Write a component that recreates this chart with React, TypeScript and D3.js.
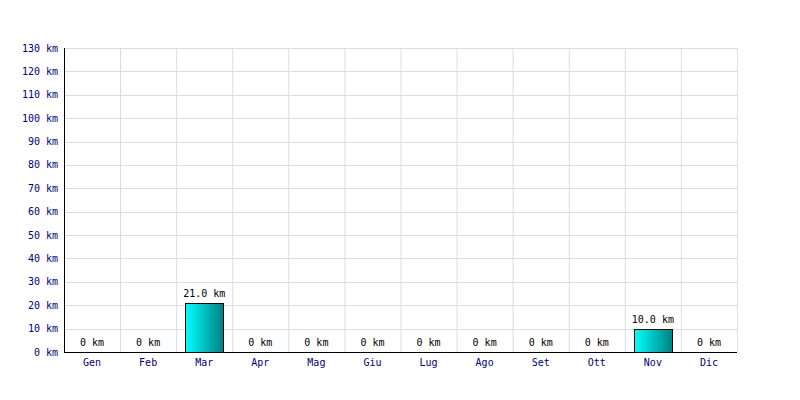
import React from "react";
import * as d3 from "d3";

const months = ["Gen", "Feb", "Mar", "Apr", "Mag", "Giu", "Lug", "Ago", "Set", "Ott", "Nov", "Dic"];
const distances = [0, 0, 21, 0, 0, 0, 0, 0, 0, 0, 10, 0];
const yTicks = [0, 10, 20, 30, 40, 50, 60, 70, 80, 90, 100, 110, 120, 130];

const width = 800;
const height = 400;
const margin = { top: 48, right: 63, bottom: 48, left: 64 };

const fmt = (v: number) => (v === 0 ? "0 km" : `${v.toFixed(1)} km`);

export default function App() {
  const x = d3
    .scaleBand<string>()
    .domain(months)
    .range([margin.left, width - margin.right])
    .paddingInner(0.32)
    .paddingOuter(0.16);
  const step = x.step();
  const y = d3
    .scaleLinear()
    .domain([0, 130])
    .range([height - margin.bottom, margin.top]);

  const bandLeft = (m: string) => margin.left + months.indexOf(m) * step;
  const font = "'DejaVu Sans Mono', monospace";

  return (
    <svg
      width={width}
      height={height}
      style={{ position: "absolute", left: 0, top: 0, background: "#fff" }}
      fontFamily={font}
      fontSize={10}
    >
      <defs>
        <linearGradient id="barGrad" x1="0" x2="1" y1="0" y2="0">
          <stop offset="0%" stopColor="#00ffff" />
          <stop offset="100%" stopColor="#008080" />
        </linearGradient>
      </defs>

      {/* grid */}
      {yTicks.map((t) => (
        <line
          key={"h" + t}
          x1={margin.left}
          x2={width - margin.right}
          y1={Math.round(y(t)) + 0.5}
          y2={Math.round(y(t)) + 0.5}
          stroke="#dcdcdc"
        />
      ))}
      {months.map((m, i) => (
        <line
          key={"v" + m}
          x1={margin.left + (i + 1) * step + 0.5}
          x2={margin.left + (i + 1) * step + 0.5}
          y1={y(130)}
          y2={y(0)}
          stroke="#dcdcdc"
        />
      ))}

      {/* bars */}
      {months.map((m, i) =>
        distances[i] > 0 ? (
          <rect
            key={"b" + m}
            x={Math.round(x(m)!) + 0.5}
            y={Math.round(y(distances[i])) + 0.5}
            width={Math.round(x.bandwidth())}
            height={Math.round(y(0)) - Math.round(y(distances[i]))}
            fill="url(#barGrad)"
            stroke="#000"
          />
        ) : null
      )}

      {/* value labels */}
      {months.map((m, i) => (
        <text
          key={"l" + m}
          x={bandLeft(m) + step / 2}
          y={y(distances[i]) - 6}
          textAnchor="middle"
          fill="#000"
        >
          {fmt(distances[i])}
        </text>
      ))}

      {/* axes */}
      <line x1={margin.left + 0.5} x2={margin.left + 0.5} y1={y(130)} y2={y(0) + 1} stroke="#000" />
      <line x1={margin.left} x2={width - margin.right} y1={y(0) + 0.5} y2={y(0) + 0.5} stroke="#000" />

      {yTicks.map((t) => (
        <text key={"yt" + t} x={margin.left - 6} y={y(t) + 3.5} textAnchor="end" fill="#000080">
          {`${t} km`}
        </text>
      ))}
      {months.map((m) => (
        <text key={"xt" + m} x={bandLeft(m) + step / 2} y={y(0) + 14} textAnchor="middle" fill="#000080">
          {m}
        </text>
      ))}
    </svg>
  );
}
